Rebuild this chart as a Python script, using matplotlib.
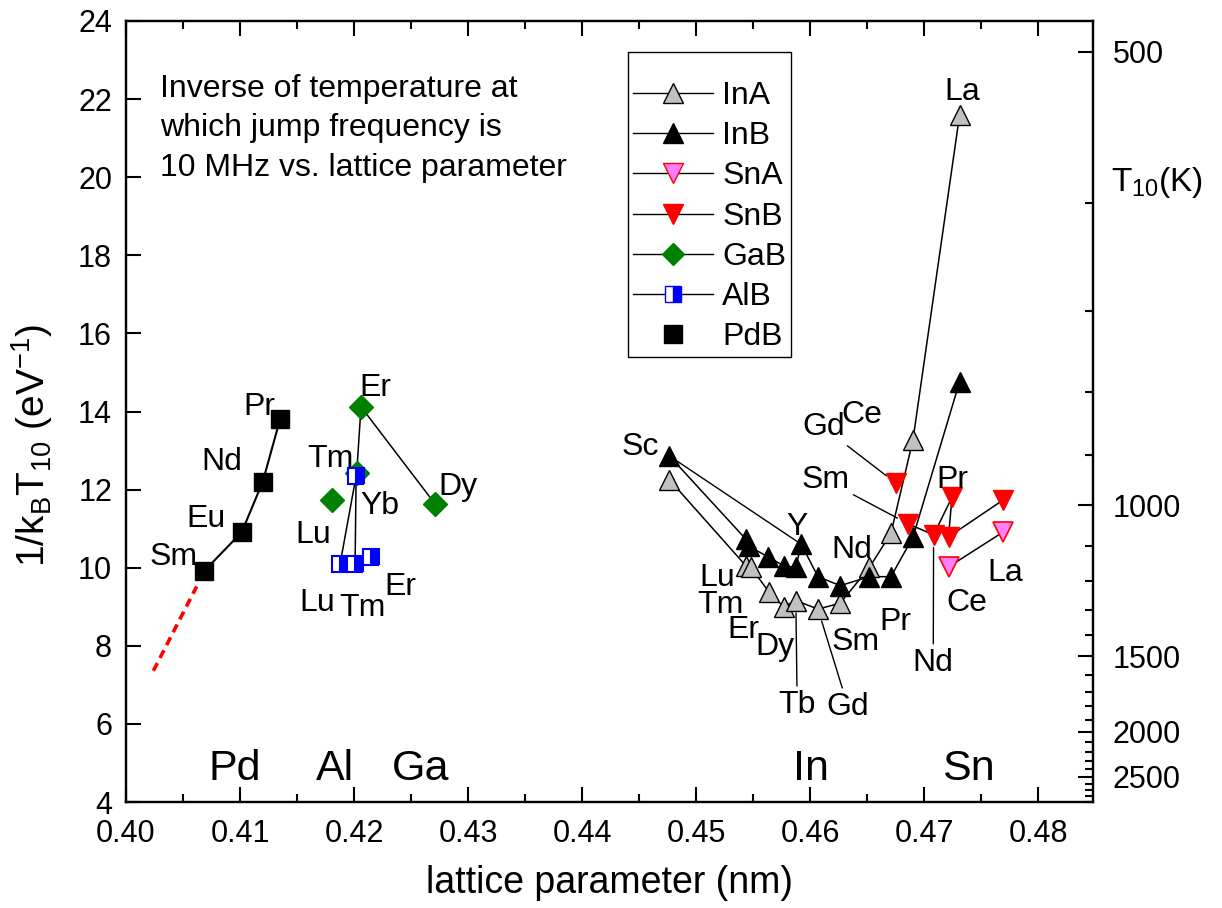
import numpy as np
import matplotlib
matplotlib.use('Agg')
import matplotlib.pyplot as plt
from matplotlib.lines import Line2D
from matplotlib.ticker import FixedLocator, FixedFormatter, MultipleLocator, FormatStrFormatter

plt.rcParams['font.family'] = ['Liberation Sans', 'DejaVu Sans']
plt.rcParams['mathtext.fontset'] = 'custom'
plt.rcParams['mathtext.rm'] = 'Liberation Sans'
plt.rcParams['mathtext.it'] = 'Liberation Sans:italic'
plt.rcParams['mathtext.bf'] = 'Liberation Sans:bold'

KB = 8.617e-5  # eV/K

# ---------------- data ----------------
pd_el = ['Sm', 'Eu', 'Nd', 'Pr']
pd_a = [0.40687, 0.41015, 0.41199, 0.41351]
pd_y = [9.92, 10.91, 12.20, 13.80]
pd_ext_a = [0.4024, 0.4062]
pd_ext_y = [7.36, 9.52]

ga_el = ['Dy', 'Er', 'Tm', 'Lu']
ga_a = [0.42711, 0.42061, 0.42023, 0.41804]
ga_y = [11.63, 14.12, 12.43, 11.73]

al_el = ['Lu', 'Yb', 'Tm', 'Er']
al_a = [0.41877, 0.42018, 0.42009, 0.42149]
al_y = [10.09, 12.35, 10.09, 10.28]

inA_el = ['Sc', 'Lu', 'Tm', 'Er', 'Dy', 'Tb', 'Gd', 'Sm', 'Nd', 'Pr', 'Ce', 'La']
inA_a = [0.44766, 0.45439, 0.45480, 0.45635, 0.45766, 0.45874, 0.46068, 0.46263, 0.46520, 0.46708, 0.46901, 0.47310]
inA_y = [12.25, 10.04, 10.01, 9.39, 9.00, 9.16, 8.94, 9.09, 10.01, 10.88, 13.27, 21.59]

inB_el = ['Sc', 'Lu', 'Tm', 'Er', 'Dy', 'Tb', 'Y', 'Gd', 'Sm', 'Nd', 'Pr', 'Ce', 'La']
inB_a = [0.44766, 0.45436, 0.45460, 0.45630, 0.45766, 0.45874, 0.45922, 0.46068, 0.46263, 0.46520, 0.46708, 0.46901, 0.47310]
inB_y = [12.86, 10.73, 10.55, 10.28, 10.05, 10.01, 10.60, 9.77, 9.54, 9.77, 9.77, 10.78, 14.76]

snA_el = ['Ce', 'La']
snA_a = [0.47213, 0.47690]
snA_y = [10.02, 10.91]

snB_el = ['La', 'Ce', 'Pr', 'Nd', 'Sm', 'Gd']
snB_a = [0.47690, 0.47213, 0.47243, 0.47082, 0.46862, 0.46754]
snB_y = [11.73, 10.79, 11.80, 10.84, 11.12, 12.16]

T_major = [500, 1000, 1500, 2000, 2500]
T_minor = [600, 700, 800, 900, 1100, 1200, 1300, 1400, 1600, 1700, 1800, 1900,
           2100, 2200, 2300, 2400, 2600, 2700, 2800, 2900]

# ---------------- figure ----------------
fig = plt.figure(figsize=(12.22, 9.08), dpi=100)
ax = fig.add_axes([126/1222, 1-802/908, (1093-126)/1222, (802-21)/908])
ax.set_xlim(0.40, 0.4848)
ax.set_ylim(4, 24)

LW = 1.1
FS = 23
TFS = 22
MS = 15

# PdB
ax.plot(pd_a, pd_y, '-', color='black', lw=1.5, zorder=2)
ax.plot(pd_ext_a, pd_ext_y, '--', color='red', lw=2.6, dashes=(2.4, 1.6), zorder=2)
ax.plot(pd_a, pd_y, 's', ms=12.5, mfc='black', mec='black', zorder=4)

# GaB
ax.plot(ga_a[:3], ga_y[:3], '-', color='black', lw=LW, zorder=2)
ax.plot(ga_a, ga_y, 'D', ms=12, mfc='#008000', mec='#008000', zorder=4)

# AlB
ax.plot(al_a, al_y, '-', color='black', lw=LW, zorder=2)
ax.plot(al_a, al_y, 's', ms=12, mfc='blue', mfcalt='white', fillstyle='right',
        mec='blue', mew=1.5, zorder=5)

# InA / InB
ax.plot(inA_a, inA_y, '-', color='black', lw=LW, zorder=2)
ax.plot(inA_a, inA_y, '^', ms=MS, mfc='#C0C0C0', mec='black', mew=1.0, zorder=4)
ax.plot(inB_a, inB_y, '-', color='black', lw=LW, zorder=2)
ax.plot([inB_a[0], inB_a[6]], [inB_y[0], inB_y[6]], '-', color='black', lw=1.0, zorder=2)
ax.plot(inB_a, inB_y, '^', ms=MS, mfc='black', mec='black', zorder=4)

# SnA / SnB
ax.plot(snA_a, snA_y, '-', color='black', lw=LW, zorder=2)
ax.plot(snA_a, snA_y, 'v', ms=MS, mfc='#FF80FF', mec='red', mew=1.2, zorder=4)
ax.plot(snB_a[:5], snB_y[:5], '-', color='black', lw=LW, zorder=2)
ax.plot(snB_a, snB_y, 'v', ms=MS, mfc='red', mec='red', zorder=4)

# ---------------- labels ----------------
def lab(s, x, y, **kw):
    ax.text(x, y, s, fontsize=FS, ha='center', va='center', zorder=6, **kw)

def lead(s, xt, yt, xp, yp, shrinkB=9):
    ax.annotate(s, xy=(xp, yp), xytext=(xt, yt), fontsize=FS, ha='center', va='center',
                arrowprops=dict(arrowstyle='-', color='black', lw=1.0, shrinkA=1, shrinkB=shrinkB),
                zorder=6)

# Pd
lab('Sm', 0.40415, 10.28)
lab('Eu', 0.40700, 11.24)
lab('Nd', 0.40842, 12.71)
lab('Pr', 0.41170, 14.12)
# Ga
lab('Er', 0.42184, 14.60)
lab('Tm', 0.41789, 12.78)
lab('Lu', 0.41640, 10.84)
lab('Yb', 0.42228, 11.58)
lab('Dy', 0.42912, 12.07)
# Al
lab('Lu', 0.41675, 9.10)
lab('Tm', 0.42070, 8.97)
lab('Er', 0.42404, 9.51)
# In
lab('Sc', 0.44509, 13.09)
lab('Y', 0.45886, 11.04)
lab('Lu', 0.45184, 9.74)
lab('Tm', 0.45211, 9.04)
lab('Er', 0.45412, 8.40)
lab('Dy', 0.45693, 7.97)
lead('Tb', 0.45886, 6.48, inA_a[5], inA_y[5])
lead('Gd', 0.46333, 6.43, inA_a[6], inA_y[6])
lab('Sm', 0.46395, 8.10)
lab('Nd', 0.46368, 10.45)
lab('Pr', 0.46746, 8.61)
lab('Ce', 0.46456, 13.91)
lab('La', 0.47333, 22.18)
# Sn
lead('Gd', 0.46114, 13.60, snB_a[5], snB_y[5])
lead('Sm', 0.46132, 12.25, snB_a[4], snB_y[4])
lab('Pr', 0.47246, 12.25)
lead('Nd', 0.47079, 7.56, snB_a[3], snB_y[3])
lab('Ce', 0.47377, 9.10)
lab('La', 0.47711, 9.86)

# region labels
for s, x in [('Pd', 0.40956), ('Al', 0.41835), ('Ga', 0.42581), ('In', 0.46005), ('Sn', 0.47384)]:
    ax.text(x, 4.85, s, fontsize=31, ha='center', va='center')

ax.text(0.40298, 22.65, 'Inverse of temperature at\nwhich jump frequency is\n10 MHz vs. lattice parameter',
        fontsize=FS, ha='left', va='top', linespacing=1.42)

# ---------------- axes styling ----------------
for sp in ax.spines.values():
    sp.set_linewidth(1.6)
ax.xaxis.set_major_locator(MultipleLocator(0.01))
ax.xaxis.set_minor_locator(MultipleLocator(0.005))
ax.xaxis.set_major_formatter(FormatStrFormatter('%.2f'))
ax.yaxis.set_major_locator(MultipleLocator(2))
ax.tick_params(axis='x', which='both', direction='in', top=True, labelsize=TFS, pad=12)
ax.tick_params(axis='y', which='both', direction='in', right=False, labelsize=TFS, pad=10)
ax.tick_params(which='major', length=11, width=1.5)
ax.tick_params(which='minor', length=6, width=1.5)
ax.set_xlabel('lattice parameter (nm)', fontsize=27, labelpad=12)
ax.set_ylabel(r'1/k$_\mathrm{B}$T$_\mathrm{10}$ (eV$^{-1}$)', fontsize=28)
ax.yaxis.set_label_coords(-0.073, 0.457)

ax2 = ax.twinx()
ax2.set_ylim(4, 24)
ax2.yaxis.set_major_locator(FixedLocator([1/(KB*t) for t in T_major]))
ax2.yaxis.set_major_formatter(FixedFormatter([str(t) for t in T_major]))
ax2.yaxis.set_minor_locator(FixedLocator([1/(KB*t) for t in T_minor]))
ax2.tick_params(axis='y', which='both', direction='in', labelsize=TFS, pad=14)
ax2.tick_params(which='major', length=11, width=1.5)
ax2.tick_params(which='minor', length=6, width=1.5)
for sp in ax2.spines.values():
    sp.set_linewidth(1.6)
ax2.text(1.066, 0.7926, r'T$_\mathrm{10}$(K)', transform=ax2.transAxes, fontsize=24,
         ha='center', va='center')

# ---------------- legend ----------------
handles = [
    Line2D([], [], color='black', lw=1.0, marker='^', ms=14, mfc='#C0C0C0', mec='black'),
    Line2D([], [], color='black', lw=1.0, marker='^', ms=14, mfc='black', mec='black'),
    Line2D([], [], color='black', lw=1.0, marker='v', ms=14, mfc='#FF80FF', mec='red'),
    Line2D([], [], color='black', lw=1.0, marker='v', ms=14, mfc='red', mec='red'),
    Line2D([], [], color='black', lw=1.0, marker='D', ms=11.5, mfc='#008000', mec='#008000'),
    Line2D([], [], color='black', lw=1.0, marker='s', ms=12, mfc='blue', mfcalt='white',
           fillstyle='right', mec='blue'),
    Line2D([], [], color='none', lw=0, marker='s', ms=12.5, mfc='black', mec='black'),
]
leg = ax.legend(handles, ['InA', 'InB', 'SnA', 'SnB', 'GaB', 'AlB', 'PdB'],
                loc='upper left', bbox_to_anchor=(0.519, 0.9603), borderaxespad=0,
                fontsize=FS, handlelength=2.5, handletextpad=0.3, labelspacing=0.32,
                borderpad=0.15, fancybox=False, framealpha=1, edgecolor='black',
                title=' ', title_fontsize=11)
leg.get_frame().set_linewidth(1.0)

fig.savefig('out.png', dpi=100)
